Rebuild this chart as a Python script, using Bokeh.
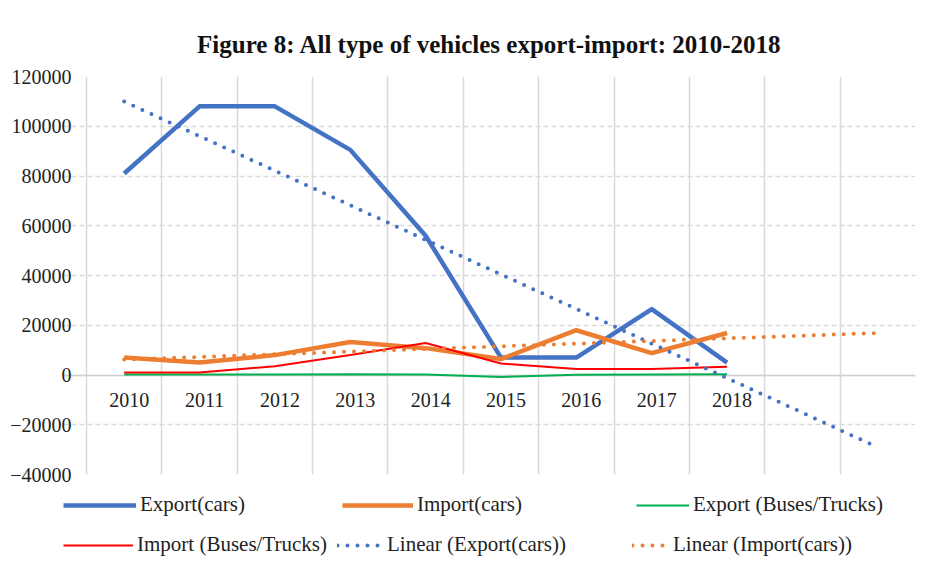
import numpy as np
from bokeh.plotting import figure
from bokeh.layouts import column
from bokeh.models import (Range1d, FixedTicker, Grid, Legend, LegendItem,
                          ColumnDataSource, Title, BasicTickFormatter)
from bokeh.core.properties import value
from bokeh.embed import file_html
from bokeh.resources import INLINE

# ---- data ----
years = ["2010", "2011", "2012", "2013", "2014", "2015", "2016", "2017", "2018"]
export_cars = [81000, 108000, 108000, 90500, 56000, 7000, 7000, 26500, 5000]
import_cars = [7000, 5000, 8000, 13300, 10800, 6400, 18000, 8800, 16900]
export_buses = [200, 200, 200, 300, 200, -800, 100, 200, 300]
import_buses = [1000, 1000, 3500, 8000, 12900, 4600, 2400, 2400, 3300]
forecast_periods = 2
y_ticks = [-40000, -20000, 0, 20000, 40000, 60000, 80000, 100000, 120000]

FONT = "Liberation Serif"
GRID = "#d9d9d9"
TXT = "#222222"

x = np.arange(1, len(years) + 1)
n_cat = len(years) + forecast_periods

def trend(vals):
    k, b = np.polyfit(x, vals, 1)
    xt = np.arange(1, n_cat + 1)
    return xt, k * xt + b

# layout constants (pixels inside the figure)
W = 923
FRAME_L = 63          # frame starts here (so the legend strip can start here too)
CAT_L = 86            # first category boundary
CAT_R = 915           # last category boundary / frame right
TOP = 76
MAIN_H = 488
BOT = 14
px_per_cat = (CAT_R - CAT_L) / n_cat
x_start = 0.5 - (CAT_L - FRAME_L) / px_per_cat

p = figure(width=W, height=MAIN_H, output_backend="svg", toolbar_location=None,
           x_range=Range1d(x_start, n_cat + 0.5),
           y_range=Range1d(y_ticks[0], y_ticks[-1]),
           min_border_left=FRAME_L, min_border_right=W - CAT_R,
           min_border_top=TOP, min_border_bottom=BOT)
p.outline_line_color = None
p.background_fill_color = "white"
p.border_fill_color = "white"

p.title = Title(text="Figure 8: All type of vehicles export-import: 2010-2018",
                text_font=FONT, text_font_size="25px", text_font_style="bold",
                align="center", offset=-84, text_color="#111111", standoff=37)

# axes
p.xaxis.visible = False
yax = p.yaxis[0]
yax.ticker = FixedTicker(ticks=y_ticks)
yax.formatter = BasicTickFormatter(use_scientific=False)
yax.axis_line_color = None
yax.major_tick_line_color = None
yax.minor_tick_line_color = None
yax.major_tick_out = 0
yax.major_tick_in = 0
yax.major_label_text_font = FONT
yax.major_label_text_font_size = "20px"
yax.major_label_text_color = TXT
yax.major_label_standoff = -8

# grids
cat_bounds = [i + 0.5 for i in range(0, n_cat + 1)]
p.ygrid.ticker = FixedTicker(ticks=y_ticks)
p.ygrid.grid_line_color = GRID
p.ygrid.grid_line_dash = "5 3"
p.ygrid.grid_line_width = 1.5
p.ygrid.bounds = (0.5, n_cat + 0.5)
p.xgrid.ticker = FixedTicker(ticks=cat_bounds)
p.xgrid.grid_line_color = GRID
p.xgrid.grid_line_width = 1.5
p.xgrid.bounds = (y_ticks[0], y_ticks[-1])
zero_grid = Grid(dimension=1, ticker=FixedTicker(ticks=[0]), bounds=(0.5, n_cat + 0.5),
                 grid_line_color="#d0d0d0", grid_line_width=1.5)
p.add_layout(zero_grid)

# category labels at the zero line
lab_src = ColumnDataSource(dict(x=x, y=[0] * len(years), t=years))
p.text(x="x", y="y", text="t", source=lab_src, text_font=value(FONT),
       text_font_size="20px", text_align="center", text_baseline="middle",
       y_offset=25, x_offset=5, text_color=TXT)

# series
xt_e, yt_e = trend(export_cars)
xt_i, yt_i = trend(import_cars)

styles = [
    dict(line_color="#4472C4", line_width=4.5, line_join="round"),
    dict(line_color="#ED7D31", line_width=4.5, line_join="round"),
    dict(line_color="#00B050", line_width=2),
    dict(line_color="#FF0000", line_width=2),
    dict(line_color="#4472C4", line_width=4, line_dash="0 10", line_cap="round"),
    dict(line_color="#ED7D31", line_width=4, line_dash="0 10", line_cap="round"),
]
series = [(x, export_cars), (x, import_cars), (x, export_buses), (x, import_buses),
          (xt_e, yt_e), (xt_i, yt_i)]
for (sx, sy), st in zip(series, styles):
    p.line(sx, sy, **st)

# ---- legend strip below the chart: two rows of three ----
LH = 82
q = figure(width=W, height=LH, output_backend="svg", toolbar_location=None,
           x_range=Range1d(1000, 1000 + W), y_range=Range1d(0, LH),
           x_axis_type=None, y_axis_type=None,
           min_border_left=FRAME_L, min_border_right=W - CAT_R, min_border_top=0,
           min_border_bottom=0)
q.outline_line_color = None
q.xgrid.visible = False
q.ygrid.visible = False
q.background_fill_color = "white"
q.border_fill_color = "white"

labels = ["Export(cars)", "Import(cars)", "Export (Buses/Trucks)",
          "Import (Buses/Trucks)", "Linear (Export(cars))", "Linear (Import(cars))"]
# (left px from the frame, bottom px) of each legend entry and its sample width
slots = [(0, 53, 73), (279, 53, 71), (573, 53, 53),
         (0, 13, 70), (274, 13, 46), (569, 13, 37)]
for lab, st, (sx, sy), (lx, ly, gw) in zip(labels, styles, series, slots):
    # same series, outside the strip's visible range: only the legend sample shows
    r = q.line(sx, sy, **st)
    lg = Legend(items=[LegendItem(label=lab, renderers=[r])], location=(lx, ly),
                padding=0, margin=0, spacing=0,
                border_line_color=None, background_fill_alpha=0,
                glyph_width=gw, glyph_height=24, label_height=24,
                label_standoff=4,
                label_text_font=FONT, label_text_font_size="21px",
                label_text_color=TXT)
    q.add_layout(lg, "center")

layout = column(p, q, spacing=0)
open("out.html", "w").write(file_html(layout, INLINE))
